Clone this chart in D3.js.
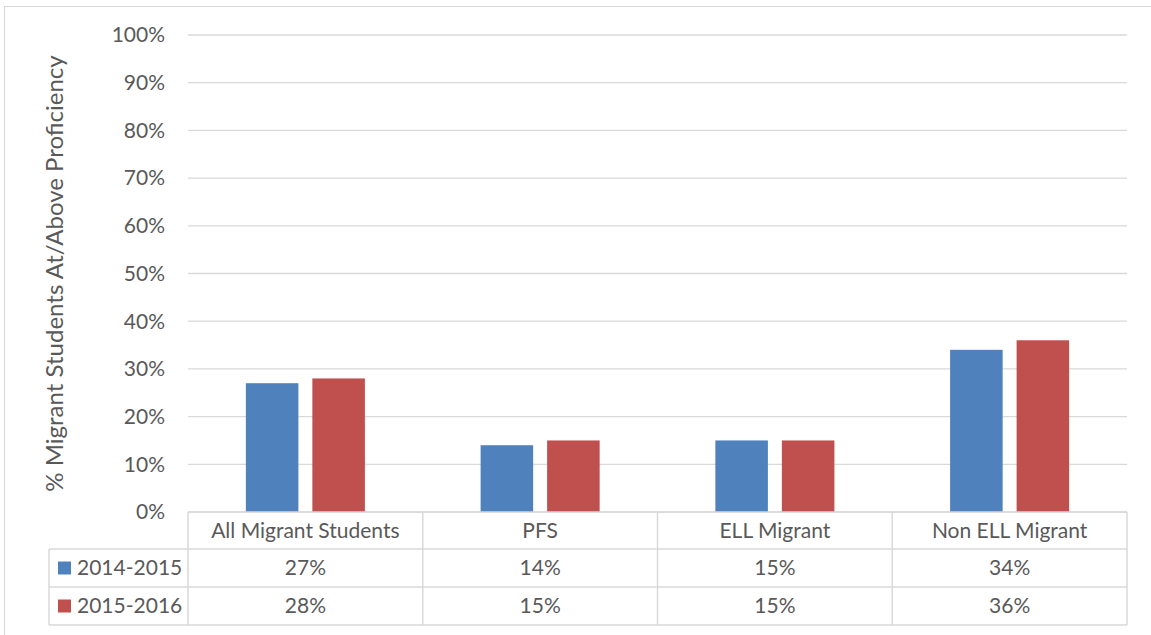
<!DOCTYPE html>
<html>
<head>
<meta charset="utf-8">
<script src="https://cdn.jsdelivr.net/npm/d3@7"></script>
<style>
  body { margin: 0; background: #fff; }
  text { font-family: Lato, "Open Sans", sans-serif; fill: #595959; }
</style>
</head>
<body>
<div id="chart"></div>
<script>
const categories = ["All Migrant Students", "PFS", "ELL Migrant", "Non ELL Migrant"];
const seriesNames = ["2014-2015", "2015-2016"];
const values2014 = [27, 14, 15, 34];
const values2015 = [28, 15, 15, 36];
const yTicks = [0, 10, 20, 30, 40, 50, 60, 70, 80, 90, 100];

const width = 1151;
const height = 635;
const colors = ["#4F81BD", "#C0504D"];
const gridColor = "#d9d9d9";

const svg = d3
  .select("#chart")
  .append("svg")
  .attr("width", width)
  .attr("height", height);

// outer chart border
svg.append("rect")
  .attr("x", 4.5).attr("y", 6.5)
  .attr("width", 1160).attr("height", 660)
  .attr("fill", "none")
  .attr("stroke", gridColor);

const plot = { left: 188, right: 1127, top: 35, bottom: 512 };

const x = d3.scaleBand().domain(categories).range([plot.left, plot.right]);
const xs = d3.scaleBand().domain(seriesNames).range([0, x.bandwidth()]).paddingInner(0.21).paddingOuter(0.87);
const y = d3.scaleLinear().domain([0, 100]).range([plot.bottom, plot.top]);

// gridlines
svg.append("g")
  .selectAll("line")
  .data(yTicks)
  .join("line")
  .attr("x1", plot.left).attr("x2", plot.right)
  .attr("y1", (d) => y(d)).attr("y2", (d) => y(d))
  .attr("stroke", gridColor)
  .attr("stroke-width", 1.3);

// y tick labels
svg.append("g")
  .selectAll("text")
  .data(yTicks)
  .join("text")
  .attr("x", 165)
  .attr("y", (d) => y(d))
  .attr("dy", "0.35em")
  .attr("text-anchor", "end")
  .style("font-size", "21px")
  .text((d) => d + "%");

// y axis title
svg.append("text")
  .attr("transform", `translate(63,${(plot.top + plot.bottom) / 2}) rotate(-90)`)
  .attr("text-anchor", "middle")
  .style("font-size", "24px")
  .text("% Migrant Students At/Above Proficiency");

// bars
const series = [values2014, values2015];
series.forEach((vals, i) => {
  svg.append("g")
    .selectAll("rect")
    .data(categories)
    .join("rect")
    .attr("x", (d) => x(d) + xs(seriesNames[i]))
    .attr("width", xs.bandwidth())
    .attr("y", (d, j) => y(vals[j]))
    .attr("height", (d, j) => y(0) - y(vals[j]))
    .attr("fill", colors[i]);
});

// data table
const rowY = [512, 549, 587, 625];
const tableLeft = 49;
const table = svg.append("g").attr("stroke", gridColor).attr("stroke-width", 1.5).attr("fill", "none");

// horizontal lines
table.append("line").attr("x1", plot.left).attr("x2", plot.right).attr("y1", rowY[0]).attr("y2", rowY[0]);
rowY.slice(1).forEach((ry) => {
  table.append("line").attr("x1", tableLeft).attr("x2", plot.right).attr("y1", ry).attr("y2", ry);
});
// vertical lines
table.append("line").attr("x1", tableLeft).attr("x2", tableLeft).attr("y1", rowY[1]).attr("y2", rowY[3]);
categories.forEach((c) => {
  table.append("line").attr("x1", x(c)).attr("x2", x(c)).attr("y1", rowY[0]).attr("y2", rowY[3]);
});
table.append("line").attr("x1", plot.right).attr("x2", plot.right).attr("y1", rowY[0]).attr("y2", rowY[3]);

// header text
svg.append("g")
  .selectAll("text")
  .data(categories)
  .join("text")
  .attr("x", (d) => x(d) + x.bandwidth() / 2)
  .attr("y", (rowY[0] + rowY[1]) / 2)
  .attr("dy", "0.35em")
  .attr("text-anchor", "middle")
  .style("font-size", "21px")
  .text((d) => d);

// row values + legend keys
series.forEach((vals, i) => {
  const cy = (rowY[i + 1] + rowY[i + 2]) / 2;
  svg.append("rect")
    .attr("x", 58).attr("y", cy - 6.5)
    .attr("width", 13).attr("height", 13)
    .attr("fill", colors[i]);
  svg.append("text")
    .attr("x", 77).attr("y", cy)
    .attr("dy", "0.35em")
    .style("font-size", "21px")
    .text(seriesNames[i]);
  svg.append("g")
    .selectAll("text")
    .data(categories)
    .join("text")
    .attr("x", (d) => x(d) + x.bandwidth() / 2)
    .attr("y", cy)
    .attr("dy", "0.35em")
    .attr("text-anchor", "middle")
    .style("font-size", "21px")
    .text((d, j) => vals[j] + "%");
});
</script>
</body>
</html>
